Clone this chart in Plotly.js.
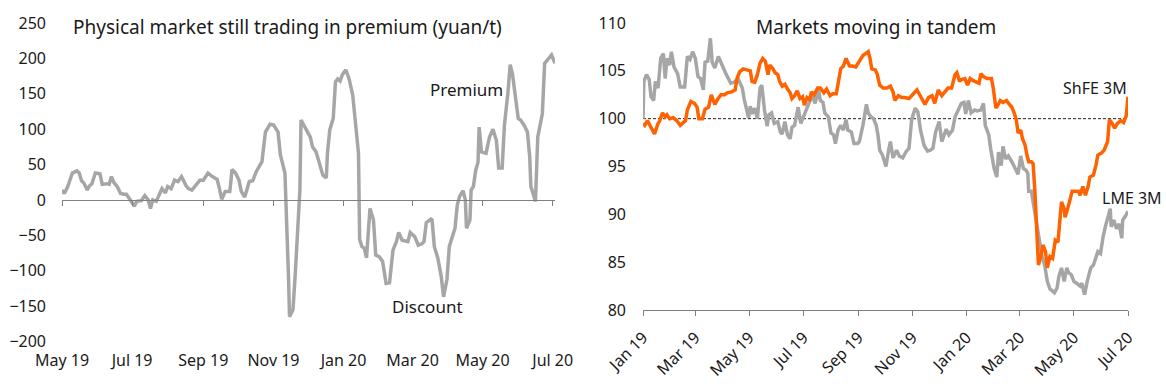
<!DOCTYPE html>
<html>
<head>
<meta charset="utf-8">
<script src="https://cdn.plot.ly/plotly-3.0.1.min.js"></script>
<style>html,body{margin:0;padding:0;background:#fff}#chart{width:1166px;height:387px}</style>
</head>
<body>
<div id="chart"></div>
<script>
// ---- Left chart: physical premium/discount (yuan/t) ----
const physDates = ['2019-05-01','2019-05-03','2019-05-06','2019-05-10','2019-05-14','2019-05-16','2019-05-18','2019-05-20','2019-05-23','2019-05-25','2019-05-27','2019-05-30',
'2019-06-03','2019-06-05','2019-06-09','2019-06-11','2019-06-13','2019-06-15','2019-06-18','2019-06-21','2019-06-24','2019-06-26','2019-06-29',
'2019-07-01','2019-07-03','2019-07-05','2019-07-09','2019-07-12','2019-07-15','2019-07-17','2019-07-19','2019-07-22','2019-07-27','2019-07-30',
'2019-08-01','2019-08-04','2019-08-07','2019-08-10','2019-08-13','2019-08-17','2019-08-19','2019-08-22','2019-08-25','2019-08-29',
'2019-09-01','2019-09-05','2019-09-08','2019-09-13','2019-09-15','2019-09-17','2019-09-20','2019-09-24','2019-09-26','2019-09-29',
'2019-10-02','2019-10-04','2019-10-07','2019-10-11','2019-10-14','2019-10-17','2019-10-22','2019-10-25','2019-10-29',
'2019-11-01','2019-11-05','2019-11-07','2019-11-11','2019-11-12','2019-11-14','2019-11-15','2019-11-18','2019-11-20','2019-11-22','2019-11-24','2019-11-25','2019-11-29',
'2019-12-03','2019-12-05','2019-12-08','2019-12-11','2019-12-14','2019-12-17','2019-12-18','2019-12-20','2019-12-23','2019-12-25','2019-12-27','2019-12-29','2019-12-31',
'2020-01-03','2020-01-06','2020-01-09','2020-01-12','2020-01-14','2020-01-15','2020-01-17','2020-01-19','2020-01-21','2020-01-24','2020-01-27','2020-01-29',
'2020-02-01','2020-02-04','2020-02-07','2020-02-10','2020-02-13','2020-02-16','2020-02-18','2020-02-21','2020-02-24','2020-02-26','2020-02-28',
'2020-03-03','2020-03-06','2020-03-09','2020-03-11','2020-03-13','2020-03-17','2020-03-18','2020-03-20','2020-03-23','2020-03-26','2020-03-28','2020-03-31',
'2020-04-02','2020-04-07','2020-04-09','2020-04-11','2020-04-14','2020-04-16','2020-04-17','2020-04-20','2020-04-21','2020-04-23','2020-04-25','2020-04-27','2020-04-28','2020-04-30',
'2020-05-04','2020-05-07','2020-05-10','2020-05-13','2020-05-15','2020-05-18','2020-05-20','2020-05-23','2020-05-25','2020-05-27','2020-05-30',
'2020-06-01','2020-06-03','2020-06-06','2020-06-09','2020-06-11','2020-06-12','2020-06-15','2020-06-16','2020-06-18','2020-06-22','2020-06-24','2020-06-27','2020-06-30','2020-07-03'];
const physPremium = [14,9,19,38,41,38,27,24,14,20,23,38,
37,22,23,22,33,25,19,9,8,8,1,
-4,-9,-2,-1,6,0,-12,0,-2,16,10,
19,16,28,26,33,20,16,14,20,28,
28,38,34,29,16,1,12,12,43,38,
28,12,4,26,27,40,54,96,107,
106,96,64,38,0,-104,-165,-155,-104,-38,14,113,101,
89,75,68,52,35,31,66,99,115,167,171,168,177,
184,170,148,104,66,-56,-66,-68,-82,-12,-28,-78,
-80,-87,-118,-117,-71,-59,-46,-57,-59,-59,-46,
-52,-64,-62,-59,-32,-27,-28,-66,-82,-108,-137,-112,
-66,-40,-7,5,13,0,-40,-28,14,19,42,53,103,68,
66,89,100,84,45,45,106,151,191,178,139,
115,113,106,96,61,19,5,-2,89,122,193,200,205,193];

// ---- Right chart: LME 3M and ShFE 3M (indexed, 100 = start) ----
const indexBase = 100;
const lmeDates = ['2019-01-01','2019-01-02','2019-01-05','2019-01-08','2019-01-10','2019-01-13','2019-01-15','2019-01-18','2019-01-21','2019-01-24','2019-01-26','2019-01-28','2019-01-31',
'2019-02-02','2019-02-05','2019-02-09','2019-02-12','2019-02-17','2019-02-20','2019-02-23','2019-02-26',
'2019-03-01','2019-03-04','2019-03-07','2019-03-10','2019-03-12','2019-03-15','2019-03-18','2019-03-20','2019-03-23','2019-03-27','2019-03-30',
'2019-04-02','2019-04-05','2019-04-10','2019-04-14','2019-04-18','2019-04-23','2019-04-25','2019-04-28','2019-04-30',
'2019-05-02','2019-05-04','2019-05-07','2019-05-10','2019-05-13','2019-05-15','2019-05-18','2019-05-21','2019-05-23','2019-05-26','2019-05-29',
'2019-06-02','2019-06-05','2019-06-07','2019-06-10','2019-06-13','2019-06-16','2019-06-18','2019-06-21','2019-06-25','2019-06-28',
'2019-07-01','2019-07-04','2019-07-08','2019-07-11','2019-07-14','2019-07-18','2019-07-20','2019-07-23','2019-07-25','2019-07-29',
'2019-08-01','2019-08-04','2019-08-06','2019-08-09','2019-08-12','2019-08-15','2019-08-18','2019-08-20','2019-08-24','2019-08-27','2019-08-31',
'2019-09-02','2019-09-06','2019-09-10','2019-09-12','2019-09-15','2019-09-18','2019-09-21','2019-09-23','2019-09-25','2019-09-28',
'2019-10-02','2019-10-05','2019-10-07','2019-10-10','2019-10-14','2019-10-17','2019-10-21','2019-10-25','2019-10-28','2019-10-31',
'2019-11-04','2019-11-07','2019-11-10','2019-11-14','2019-11-18','2019-11-21','2019-11-24','2019-11-27',
'2019-12-01','2019-12-04','2019-12-06','2019-12-09','2019-12-12','2019-12-16','2019-12-19','2019-12-23','2019-12-26','2019-12-29','2019-12-31',
'2020-01-03','2020-01-06','2020-01-10','2020-01-13','2020-01-17','2020-01-20','2020-01-22','2020-01-26','2020-01-28',
'2020-02-01','2020-02-04','2020-02-06','2020-02-09','2020-02-11','2020-02-14','2020-02-17','2020-02-21','2020-02-24','2020-02-28',
'2020-03-02','2020-03-05','2020-03-08','2020-03-10','2020-03-11','2020-03-14','2020-03-16','2020-03-19','2020-03-21','2020-03-24','2020-03-26','2020-03-29',
'2020-04-01','2020-04-04','2020-04-07','2020-04-09','2020-04-12','2020-04-14','2020-04-17','2020-04-20','2020-04-23','2020-04-25','2020-04-28',
'2020-05-01','2020-05-04','2020-05-08','2020-05-10','2020-05-13','2020-05-16','2020-05-20','2020-05-23','2020-05-25','2020-05-28','2020-05-31',
'2020-06-03','2020-06-06','2020-06-08','2020-06-11','2020-06-12','2020-06-15','2020-06-18','2020-06-21','2020-06-24','2020-06-25','2020-06-28','2020-07-01'];
const lmeIndex = [100,103.9,104.6,104.1,102.3,101.9,103.9,103.2,106.3,106.8,104.2,106.3,105.6,
107,105.4,104.7,103.3,103.3,106.5,106.2,107,
106.3,104.4,104.2,103,105.9,106,108.4,105.9,105.3,106.5,105.8,
105.3,104.6,103.7,103.8,104.2,103.2,102.1,100.9,100.1,
101.3,100.5,101.1,100,103.2,103.5,100.9,99.2,100.4,100.6,99.5,
99.7,98.6,98.4,99.7,98.3,97.9,99.1,99.3,101.2,99.5,
100.2,101.1,101.9,102.5,101.6,103,101.9,101.7,100.6,100.2,
98.5,98.3,97.4,98.8,99.3,98.8,99.9,98.8,98.6,97.4,97.4,
97.6,99.3,101.5,100.6,100.2,100,99.3,98.3,96.7,96.2,
95,96.7,97.6,95.9,96.7,96.1,95.9,96.6,96.9,99.9,
101.1,100.7,98.8,97.2,96.6,96.7,96.9,98.6,
99.7,97.6,98.1,98.9,98.3,98.8,100.2,100.9,101.6,101.7,100.5,
101.9,100.6,100.9,100.8,100.9,101.6,99.3,98.3,96.9,
94.8,93.9,96.5,95.1,97.1,95.8,96.1,95.5,95,94.2,
96.1,94.8,94.6,94.3,92.4,92.4,91.3,89.6,88,86.4,85.6,84.7,
83,82.2,81.9,81.8,82.3,83.5,84.4,83,84.4,83.9,83.7,
83,82.8,82.5,82.8,81.6,83,84.4,84.7,85.4,86.1,85.9,
87.7,88.9,89.7,90.6,88.7,89.4,88.5,89,87.5,89.4,89.8,90.3];

const shfeDates = ['2019-01-01','2019-01-03','2019-01-06','2019-01-09','2019-01-14','2019-01-18','2019-01-20','2019-01-23','2019-01-26','2019-01-28','2019-01-31',
'2019-02-04','2019-02-08','2019-02-12','2019-02-15','2019-02-18','2019-02-20','2019-02-24','2019-02-28',
'2019-03-03','2019-03-05','2019-03-09','2019-03-12','2019-03-16','2019-03-19','2019-03-23','2019-03-26','2019-03-30',
'2019-04-03','2019-04-06','2019-04-11','2019-04-15','2019-04-17','2019-04-20','2019-04-24','2019-04-29',
'2019-05-02','2019-05-04','2019-05-07','2019-05-10','2019-05-13','2019-05-16','2019-05-19','2019-05-22','2019-05-24','2019-05-27','2019-05-30',
'2019-06-02','2019-06-04','2019-06-07','2019-06-10','2019-06-13','2019-06-16','2019-06-18','2019-06-21','2019-06-24','2019-06-27','2019-06-30',
'2019-07-02','2019-07-05','2019-07-08','2019-07-10','2019-07-13','2019-07-17','2019-07-20','2019-07-24','2019-07-27','2019-07-31',
'2019-08-03','2019-08-07','2019-08-09','2019-08-12','2019-08-15','2019-08-18','2019-08-22','2019-08-25','2019-08-29',
'2019-09-02','2019-09-06','2019-09-09','2019-09-12','2019-09-14','2019-09-16','2019-09-20','2019-09-22','2019-09-25','2019-09-29',
'2019-10-03','2019-10-07','2019-10-10','2019-10-12','2019-10-16','2019-10-20','2019-10-23','2019-10-28',
'2019-11-02','2019-11-06','2019-11-09','2019-11-12','2019-11-15','2019-11-19','2019-11-23','2019-11-26','2019-11-30',
'2019-12-04','2019-12-08','2019-12-11','2019-12-15','2019-12-19','2019-12-21','2019-12-24','2019-12-26','2019-12-30',
'2020-01-02','2020-01-05','2020-01-08','2020-01-12','2020-01-15','2020-01-17','2020-01-20','2020-01-24','2020-01-29','2020-01-31',
'2020-02-03','2020-02-05','2020-02-08','2020-02-11','2020-02-15','2020-02-19','2020-02-21','2020-02-24','2020-02-26','2020-02-28',
'2020-03-02','2020-03-04','2020-03-07','2020-03-09','2020-03-11','2020-03-14','2020-03-16','2020-03-18','2020-03-20','2020-03-22','2020-03-25','2020-03-27','2020-03-30',
'2020-04-01','2020-04-04','2020-04-07','2020-04-10','2020-04-13','2020-04-15','2020-04-17','2020-04-20','2020-04-21','2020-04-24','2020-04-27','2020-04-29',
'2020-05-02','2020-05-06','2020-05-08','2020-05-11','2020-05-14','2020-05-17','2020-05-19','2020-05-23','2020-05-26','2020-05-28',
'2020-06-01','2020-06-04','2020-06-08','2020-06-10','2020-06-13','2020-06-16','2020-06-19','2020-06-23','2020-06-26','2020-06-29','2020-07-01'];
const shfeIndex = [99.5,99.3,99.8,99.2,98.4,99.5,99.8,100.6,100.2,100.4,100,
100.1,99.8,99.3,99.6,99.8,100.9,101.8,101.6,
101.2,100,100,101,101.2,102.5,101.5,102,102.5,
102.5,102.7,102.8,103,104.2,104.9,105.2,105.1,
105,103.9,103.8,104.6,105.8,106.3,106,104.6,105.6,105.3,104.8,
104.6,103.9,103.4,103.6,103.1,102.7,102.1,102.4,102.9,102.1,102.3,
101.4,102.2,102,102.8,102.5,103.2,103.2,102.7,103.1,102.4,
102.6,102.6,103.5,105.2,105.5,106.3,105.5,105.5,105.4,
106,106.6,106.8,107,106.3,105.2,105.1,104.7,103.5,103.2,
103.2,103.4,102.8,101.9,102.4,102.2,102.2,102.1,
102.6,103,102.5,102,101.5,102.2,102.4,101.6,103,
102.4,102.9,103.2,103.2,104.6,104.8,103.9,104.1,104.2,
103.5,104.2,104,103.8,103.7,104.7,104.4,104.2,104.2,103.2,
101.1,101.4,101.9,101.7,101.9,101.4,101.2,100.5,99.9,98.5,
98.8,97.9,97.2,96.2,95.5,95.5,95.3,92.4,88.9,84.7,85.7,86.8,86.1,
84.4,85.6,85.4,87.3,87.1,89.2,91.3,90.6,89.7,90.6,91.5,92.4,
92.4,92.4,92,92.9,92,92.9,93.9,94.1,95.2,96.2,
96.4,96.7,97.6,99.9,99.5,99,99.5,99.8,99.6,100.3,102.3];

// ---- layout helpers (pixel -> paper fraction) ----
const W = 1166, H = 387;
const fx = p => p / W;
const fy = p => 1 - p / H;

const leftRange = [-200, 250];
const leftDomY = [fy(341.5), fy(23)];
const zeroPos = leftDomY[0] + (leftDomY[1] - leftDomY[0]) * (0 - leftRange[0]) / (leftRange[1] - leftRange[0]);

const GREY = '#a6a6a6', ORANGE = '#ff6200', AXIS = '#808080', TXT = '#1a1a1a';
const FONT = 'Noto Sans, sans-serif';

const traces = [
  {x: physDates, y: physPremium, xaxis: 'x', yaxis: 'y', mode: 'lines', line: {color: GREY, width: 3.5}, hoverinfo: 'skip'},
  {x: physDates, y: physPremium, xaxis: 'x3', yaxis: 'y', mode: 'none', hoverinfo: 'skip'},
  {x: lmeDates, y: lmeIndex, xaxis: 'x2', yaxis: 'y2', mode: 'lines', line: {color: GREY, width: 3.5}, hoverinfo: 'skip'},
  {x: shfeDates, y: shfeIndex, xaxis: 'x2', yaxis: 'y2', mode: 'lines', line: {color: ORANGE, width: 3.5}, hoverinfo: 'skip'}
];

const tickFont = {family: FONT, size: 16, color: TXT};

const layout = {
  width: W, height: H,
  margin: {l: 0, r: 0, t: 0, b: 0},
  paper_bgcolor: '#fff', plot_bgcolor: '#fff',
  showlegend: false,
  font: {family: FONT, size: 16, color: TXT},
  xaxis: {
    domain: [fx(62), fx(555)], anchor: 'y', type: 'date',
    range: ['2019-05-01', '2020-07-03'], tick0: '2019-05-01', dtick: 'M2', tickformat: '%b %y',
    showgrid: false, zeroline: false, showline: false, ticks: '', tickfont: tickFont, ticklabelstandoff: 7
  },
  xaxis3: {
    overlaying: 'x', anchor: 'free', position: zeroPos, type: 'date',
    range: ['2019-05-01', '2020-07-03'], tick0: '2019-05-01', dtick: 'M2',
    showgrid: false, zeroline: false, showline: true, linecolor: AXIS, linewidth: 1,
    ticks: 'outside', ticklen: 5, tickcolor: AXIS, tickwidth: 1, showticklabels: false
  },
  yaxis: {
    domain: leftDomY, anchor: 'x', range: leftRange, dtick: 50,
    showgrid: false, zeroline: false, showline: false, ticks: '', tickfont: tickFont, ticklabelstandoff: 15
  },
  xaxis2: {
    domain: [fx(643), fx(1128)], anchor: 'y2', type: 'date',
    range: ['2019-01-01', '2020-07-01'], tick0: '2019-01-01', dtick: 'M2', tickformat: '%b %y', tickangle: -45,
    showgrid: false, zeroline: false, showline: true, linecolor: AXIS, linewidth: 1,
    ticks: 'outside', ticklen: 5, tickcolor: AXIS, tickwidth: 1, tickfont: tickFont, ticklabelstandoff: 6
  },
  yaxis2: {
    domain: [fy(310), fy(23)], anchor: 'x2', range: [80, 110], dtick: 5,
    showgrid: false, zeroline: false, showline: false, ticks: '', tickfont: tickFont, ticklabelstandoff: 16
  },
  shapes: [
    {type: 'line', xref: 'x2 domain', yref: 'y2', x0: 0, x1: 1, y0: indexBase, y1: indexBase,
     line: {color: '#222', width: 1, dash: '3px,2px'}, layer: 'below'}
  ],
  annotations: [
    {text: 'Physical market still trading in premium (yuan/t)', xref: 'paper', yref: 'paper', x: fx(287), y: fy(27),
     xanchor: 'center', yanchor: 'middle', showarrow: false, font: {family: FONT, size: 19, color: TXT}},
    {text: 'Markets moving in tandem', xref: 'paper', yref: 'paper', x: fx(876), y: fy(27),
     xanchor: 'center', yanchor: 'middle', showarrow: false, font: {family: FONT, size: 19, color: TXT}},
    {text: 'Premium', xref: 'paper', yref: 'paper', x: fx(466), y: fy(89), xanchor: 'center', yanchor: 'middle',
     showarrow: false, font: {family: FONT, size: 17, color: TXT}},
    {text: 'Discount', xref: 'paper', yref: 'paper', x: fx(427), y: fy(306), xanchor: 'center', yanchor: 'middle',
     showarrow: false, font: {family: FONT, size: 17, color: TXT}},
    {text: 'ShFE 3M', xref: 'paper', yref: 'paper', x: fx(1095), y: fy(88), xanchor: 'center', yanchor: 'middle',
     showarrow: false, font: {family: FONT, size: 16, color: TXT}},
    {text: 'LME 3M', xref: 'paper', yref: 'paper', x: fx(1132), y: fy(198), xanchor: 'center', yanchor: 'middle',
     showarrow: false, font: {family: FONT, size: 16, color: TXT}}
  ]
};

Plotly.newPlot('chart', traces, layout, {staticPlot: true, displayModeBar: false});
</script>
</body>
</html>
